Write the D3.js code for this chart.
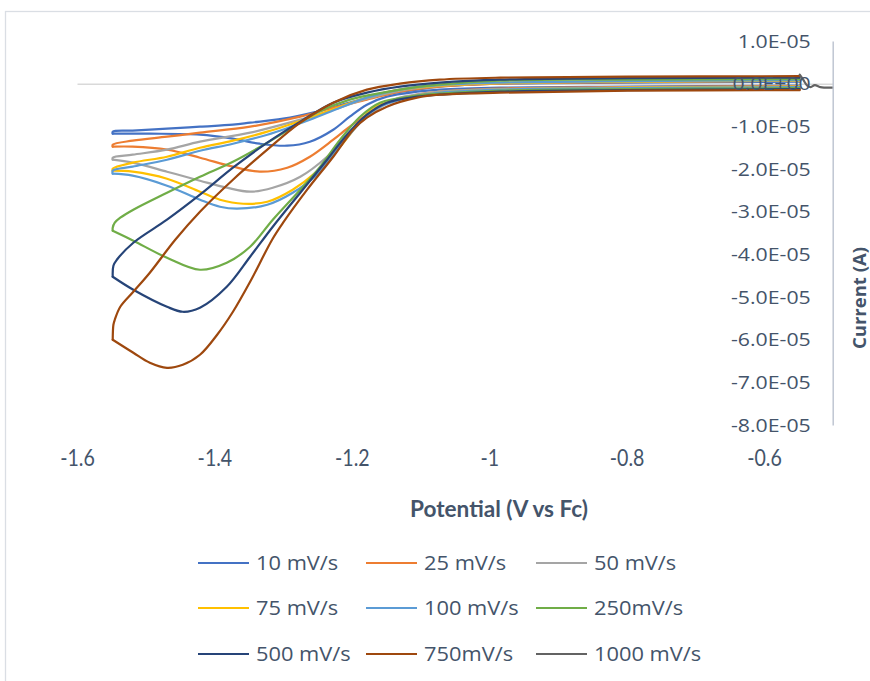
<!DOCTYPE html>
<html>
<head>
<meta charset="utf-8">
<script src="https://cdn.jsdelivr.net/npm/d3@7"></script>
<style>
  body { margin: 0; background: #fff; }
  svg { display: block; }
</style>
</head>
<body>
<div id="chart"></div>
<script>
var seriesNames = ["10 mV/s", "25 mV/s", "50 mV/s", "75 mV/s", "100 mV/s", "250mV/s", "500 mV/s", "750mV/s", "1000 mV/s"];
var seriesColors = ["#4472c4", "#ed7d31", "#a5a5a5", "#ffc000", "#5b9bd5", "#70ad47", "#264478", "#9e480e", "#636363"];

// [potential (V vs Fc), current (A)] - cathodic sweep first, then the return sweep
var cv10 = [[-0.548,-0.47e-6],[-0.799,-0.70e-6],[-0.984,-0.94e-6],[-1.072,-1.41e-6],[-1.105,-1.88e-6],[-1.149,-3.05e-6],[-1.178,-4.92e-6],[-1.203,-7.74e-6],[-1.227,-10.79e-6],[-1.261,-13.6e-6],[-1.294,-14.54e-6],[-1.334,-14.07e-6],[-1.373,-12.9e-6],[-1.421,-11.96e-6],[-1.494,-11.72e-6],[-1.548,-11.72e-6],
  [-1.548,-11.25e-6],[-1.519,-11.0e-6],[-1.469,-10.55e-6],[-1.421,-10.08e-6],[-1.373,-9.61e-6],[-1.348,-9.14e-6],[-1.290,-7.97e-6],[-1.251,-6.57e-6],[-1.203,-4.45e-6],[-1.155,-2.58e-6],[-1.105,-1.41e-6],[-1.072,-0.70e-6],[-0.984,0],[-0.799,0.23e-6],[-0.548,0.47e-6]];
var cv25 = [[-0.548,-0.59e-6],[-0.799,-0.82e-6],[-0.984,-1.17e-6],[-1.072,-1.88e-6],[-1.105,-2.58e-6],[-1.155,-4.92e-6],[-1.178,-7.27e-6],[-1.203,-10.08e-6],[-1.227,-13.13e-6],[-1.261,-17.12e-6],[-1.294,-19.7e-6],[-1.334,-20.63e-6],[-1.373,-19.46e-6],[-1.421,-17.35e-6],[-1.469,-15.47e-6],[-1.519,-14.77e-6],[-1.548,-14.77e-6],
  [-1.548,-14.3e-6],[-1.519,-13.36e-6],[-1.469,-12.43e-6],[-1.421,-11.49e-6],[-1.348,-10.08e-6],[-1.275,-7.74e-6],[-1.227,-5.63e-6],[-1.178,-3.75e-6],[-1.130,-1.88e-6],[-1.072,-0.70e-6],[-0.984,0],[-0.799,0.35e-6],[-0.548,0.70e-6]];
var cv50 = [[-0.548,-0.70e-6],[-0.799,-0.94e-6],[-0.984,-1.29e-6],[-1.072,-1.88e-6],[-1.105,-2.58e-6],[-1.130,-3.28e-6],[-1.155,-5.16e-6],[-1.178,-7.74e-6],[-1.203,-11.49e-6],[-1.236,-17.12e-6],[-1.275,-21.81e-6],[-1.315,-24.38e-6],[-1.348,-25.32e-6],[-1.382,-24.38e-6],[-1.421,-22.74e-6],[-1.469,-20.63e-6],[-1.519,-18.52e-6],[-1.548,-17.82e-6],
  [-1.548,-17.35e-6],[-1.519,-16.65e-6],[-1.469,-15.47e-6],[-1.421,-13.6e-6],[-1.348,-11.49e-6],[-1.275,-8.44e-6],[-1.227,-6.10e-6],[-1.178,-3.52e-6],[-1.130,-1.64e-6],[-1.072,-0.47e-6],[-0.984,0.12e-6],[-0.799,0.47e-6],[-0.548,0.70e-6]];
var cv75 = [[-0.548,-0.70e-6],[-0.799,-0.94e-6],[-0.984,-1.41e-6],[-1.072,-2.11e-6],[-1.105,-2.81e-6],[-1.144,-4.22e-6],[-1.169,-5.63e-6],[-1.188,-8.91e-6],[-1.217,-14.77e-6],[-1.251,-20.63e-6],[-1.286,-24.85e-6],[-1.323,-27.67e-6],[-1.358,-28.14e-6],[-1.392,-27.2e-6],[-1.421,-25.32e-6],[-1.469,-22.27e-6],[-1.519,-20.63e-6],[-1.548,-20.4e-6],
  [-1.548,-19.93e-6],[-1.519,-18.52e-6],[-1.469,-17.12e-6],[-1.421,-15.01e-6],[-1.373,-13.36e-6],[-1.323,-11.25e-6],[-1.261,-7.97e-6],[-1.217,-5.39e-6],[-1.178,-3.28e-6],[-1.130,-1.41e-6],[-1.072,-0.47e-6],[-0.984,0.12e-6],[-0.799,0.47e-6],[-0.548,0.70e-6]];
var cv100 = [[-0.548,-0.82e-6],[-0.799,-1.06e-6],[-0.984,-1.41e-6],[-1.072,-2.11e-6],[-1.105,-2.81e-6],[-1.144,-4.45e-6],[-1.163,-5.63e-6],[-1.188,-9.14e-6],[-1.213,-13.83e-6],[-1.251,-21.34e-6],[-1.286,-25.56e-6],[-1.323,-28.37e-6],[-1.367,-29.31e-6],[-1.392,-28.84e-6],[-1.421,-27.2e-6],[-1.469,-23.92e-6],[-1.519,-21.57e-6],[-1.548,-21.1e-6],
  [-1.548,-20.4e-6],[-1.519,-19.46e-6],[-1.469,-17.82e-6],[-1.421,-15.71e-6],[-1.373,-14.07e-6],[-1.323,-11.96e-6],[-1.261,-8.44e-6],[-1.217,-5.63e-6],[-1.178,-3.28e-6],[-1.130,-1.41e-6],[-1.072,-0.35e-6],[-0.984,0.23e-6],[-0.799,0.59e-6],[-0.548,0.82e-6]];
var cv250 = [[-0.548,-1.06e-6],[-0.799,-1.29e-6],[-0.984,-1.64e-6],[-1.072,-2.34e-6],[-1.105,-2.81e-6],[-1.159,-4.45e-6],[-1.188,-7.74e-6],[-1.217,-13.13e-6],[-1.246,-19.46e-6],[-1.275,-24.85e-6],[-1.315,-31.89e-6],[-1.348,-38.22e-6],[-1.382,-41.97e-6],[-1.421,-43.61e-6],[-1.469,-40.8e-6],[-1.518,-36.82e-6],[-1.548,-34.47e-6],
  [-1.548,-33.76e-6],[-1.545,-32.59e-6],[-1.537,-31.42e-6],[-1.518,-29.54e-6],[-1.469,-25.56e-6],[-1.421,-21.81e-6],[-1.373,-18.29e-6],[-1.323,-13.83e-6],[-1.275,-9.14e-6],[-1.251,-6.80e-6],[-1.203,-3.75e-6],[-1.155,-2.11e-6],[-1.101,-0.70e-6],[-0.984,0.70e-6],[-0.799,0.94e-6],[-0.548,1.06e-6]];
var cv500 = [[-0.548,-1.29e-6],[-0.799,-1.52e-6],[-0.984,-1.88e-6],[-1.072,-2.58e-6],[-1.105,-3.05e-6],[-1.149,-4.45e-6],[-1.178,-7.27e-6],[-1.207,-11.96e-6],[-1.236,-17.82e-6],[-1.275,-25.56e-6],[-1.315,-33.53e-6],[-1.348,-40.56e-6],[-1.382,-47.6e-6],[-1.421,-52.52e-6],[-1.446,-53.46e-6],[-1.469,-52.29e-6],[-1.518,-48.3e-6],[-1.548,-45.25e-6],
  [-1.547,-42.67e-6],[-1.542,-41.27e-6],[-1.518,-37.28e-6],[-1.469,-31.89e-6],[-1.421,-26.03e-6],[-1.373,-19.7e-6],[-1.323,-13.83e-6],[-1.275,-8.91e-6],[-1.227,-4.45e-6],[-1.178,-2.11e-6],[-1.130,-0.70e-6],[-1.072,0.23e-6],[-0.984,0.94e-6],[-0.799,1.29e-6],[-0.548,1.41e-6]];
var cv750 = [[-0.548,-1.52e-6],[-0.799,-1.64e-6],[-0.984,-2.11e-6],[-1.072,-2.58e-6],[-1.105,-3.28e-6],[-1.149,-5.39e-6],[-1.178,-7.97e-6],[-1.198,-10.79e-6],[-1.227,-17.12e-6],[-1.265,-24.85e-6],[-1.300,-32.59e-6],[-1.316,-36.58e-6],[-1.348,-46.42e-6],[-1.373,-53.46e-6],[-1.396,-58.85e-6],[-1.421,-63.54e-6],[-1.446,-65.89e-6],[-1.469,-66.59e-6],[-1.494,-65.41e-6],[-1.518,-63.07e-6],[-1.548,-60.02e-6],
  [-1.547,-56.5e-6],[-1.545,-55.33e-6],[-1.537,-52.29e-6],[-1.518,-48.77e-6],[-1.494,-44.31e-6],[-1.457,-36.58e-6],[-1.421,-30.01e-6],[-1.373,-22.51e-6],[-1.323,-15.47e-6],[-1.275,-9.14e-6],[-1.227,-4.45e-6],[-1.178,-1.41e-6],[-1.130,0],[-1.072,0.94e-6],[-0.984,1.41e-6],[-0.799,1.64e-6],[-0.548,1.76e-6]];
var cv1000 = [[-0.548,2.11e-6],[-0.543,0.94e-6],[-0.537,-0.47e-6],[-0.532,-0.82e-6],[-0.526,-0.35e-6],[-0.518,-0.82e-6],[-0.500,-0.94e-6]];

var seriesData = [cv10, cv25, cv50, cv75, cv100, cv250, cv500, cv750, cv1000];

var xDomain = [-1.6, -0.5];
var yDomain = [-8e-5, 1e-5];
var xTicks = [-1.6, -1.4, -1.2, -1, -0.8, -0.6];
var yTicks = [1e-5, 0, -1e-5, -2e-5, -3e-5, -4e-5, -5e-5, -6e-5, -7e-5, -8e-5];

var width = 870, height = 681;
var textColor = "#44546a";
var wide = 1.12; // the tick / legend face in the picture is wider than Open Sans

var svg = d3.select("#chart")
  .append("svg")
  .attr("width", width)
  .attr("height", height);

// chart area border
svg.append("rect")
  .attr("x", 5.5)
  .attr("y", 11.5)
  .attr("width", width + 20)
  .attr("height", height + 20)
  .attr("fill", "#fff")
  .attr("stroke", "#dadee4")
  .attr("stroke-width", 1.3);

var x = d3.scaleLinear().domain(xDomain).range([77, 832.7]);
var y = d3.scaleLinear().domain(yDomain).range([425, 41]);

var locale = d3.formatLocale({decimal: ".", thousands: ",", grouping: [3], currency: ["", ""], minus: "-"});
function fmtE(d) {
  var s = locale.format(".1e")(d);
  return s.replace(/e([+-])(\d+)$/, function (m, sign, exp) {
    return "E" + sign + (exp.length < 2 ? "0" + exp : exp);
  });
}

// horizontal axis line at zero current
svg.append("g")
  .attr("transform", "translate(0," + y(0) + ")")
  .call(d3.axisBottom(x).tickValues([]).tickSize(0).tickSizeOuter(0))
  .select(".domain")
  .attr("stroke", "#d9d9d9")
  .attr("stroke-width", 1.5);

// curves: each loop is drawn as its cathodic sweep and its return sweep,
// split at the switching potential so the turn stays sharp
var line = d3.line()
  .x(function (d) { return x(d[0]); })
  .y(function (d) { return y(d[1]); })
  .curve(d3.curveCatmullRom.alpha(0.5));

function sweeps(d) {
  var k = d3.minIndex(d, function (p) { return p[0]; });
  return [d.slice(0, k + 1), d.slice(k)];
}

var series = svg.selectAll("g.cv")
  .data(seriesData)
  .enter()
  .append("g")
  .attr("class", "cv")
  .attr("stroke", function (d, i) { return seriesColors[i]; });

series.selectAll("path")
  .data(function (d) { return sweeps(d).filter(function (s) { return s.length > 1; }); })
  .enter()
  .append("path")
  .attr("d", line)
  .attr("fill", "none")
  .attr("stroke-width", 2.2)
  .attr("stroke-linejoin", "round")
  .attr("stroke-linecap", "round");

// x tick labels, placed below the plot
var xAxis = svg.append("g")
  .attr("transform", "translate(0,425)")
  .call(d3.axisBottom(x).tickValues(xTicks).tickSize(0).tickPadding(25)
    .tickFormat(function (d) { return String(d); }));
xAxis.select(".domain").remove();
xAxis.selectAll("text")
  .attr("fill", textColor)
  .style("font-family", "Lato, sans-serif")
  .style("font-size", "22.5px")
  .attr("transform", "scale(0.87,1)");

// vertical axis on the right edge of the plot
var yAxis = svg.append("g")
  .attr("transform", "translate(" + x(-0.5) + ",0)")
  .call(d3.axisLeft(y).tickValues(yTicks).tickSize(0).tickSizeOuter(0).tickPadding(0).tickFormat(fmtE));
yAxis.select(".domain")
  .attr("stroke", "#bfc6d2")
  .attr("stroke-width", 1.5);
yAxis.selectAll("text")
  .attr("x", -22 / wide)
  .attr("fill", textColor)
  .style("font-family", "'Open Sans', sans-serif")
  .style("font-size", "19px")
  .attr("transform", "scale(" + wide + ",1)");

// axis titles
svg.append("text")
  .attr("x", 410)
  .attr("y", 517)
  .attr("textLength", 178)
  .attr("lengthAdjust", "spacingAndGlyphs")
  .attr("fill", textColor)
  .style("font-family", "Lato, sans-serif")
  .style("font-weight", "bold")
  .style("font-size", "23px")
  .text("Potential (V vs Fc)");

svg.append("text")
  .attr("transform", "translate(866,298) rotate(-90)")
  .attr("text-anchor", "middle")
  .attr("fill", textColor)
  .style("font-family", "'Open Sans', sans-serif")
  .style("font-weight", "bold")
  .style("font-size", "18.5px")
  .text("Current (A)");

// legend, 3 x 3
var legendCols = [198, 366, 536];
var legendRows = [563, 608, 654];
var legend = svg.selectAll("g.legend")
  .data(seriesNames)
  .enter()
  .append("g")
  .attr("class", "legend")
  .attr("transform", function (d, i) {
    return "translate(" + legendCols[i % 3] + "," + legendRows[Math.floor(i / 3)] + ")";
  });

legend.append("line")
  .attr("x1", 0)
  .attr("x2", 51)
  .attr("stroke", function (d, i) { return seriesColors[i]; })
  .attr("stroke-width", 2.2);

legend.append("text")
  .attr("transform", "translate(58,0) scale(" + wide + ",1)")
  .attr("dy", "0.35em")
  .attr("fill", textColor)
  .style("font-family", "'Open Sans', sans-serif")
  .style("font-size", "19.5px")
  .text(function (d) { return d; });
</script>
</body>
</html>
